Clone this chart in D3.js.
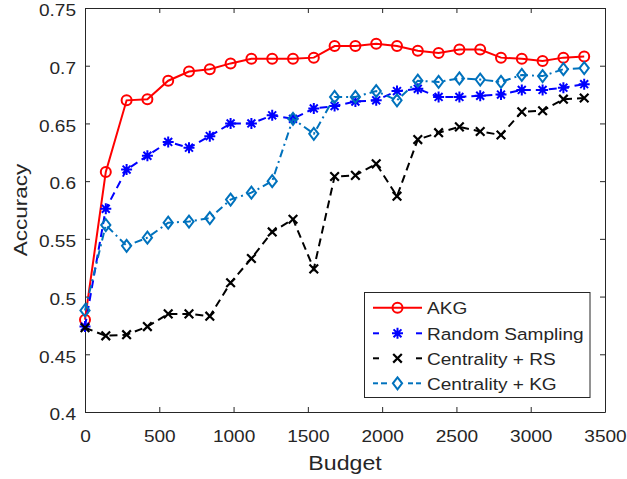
<!DOCTYPE html>
<html><head><meta charset="utf-8">
<script src="https://cdn.jsdelivr.net/npm/d3@7"></script>
<style>body{margin:0;background:#fff} svg{display:block}</style>
</head><body><svg id="c" width="627" height="479"></svg>
<script>
// ---- data ----
const budget = [0,140,280,420,560,700,840,980,1120,1260,1400,1540,1680,1820,1960,2100,2240,2380,2520,2660,2800,2940,3080,3220,3360];
const akg = [0.480,0.608,0.670,0.671,0.687,0.695,0.697,0.702,0.706,0.706,0.706,0.707,0.717,0.717,0.719,0.717,0.713,0.711,0.714,0.714,0.707,0.706,0.704,0.707,0.708];
const randomSampling = [0.474,0.576,0.610,0.622,0.634,0.629,0.639,0.650,0.650,0.657,0.654,0.663,0.665,0.669,0.670,0.678,0.680,0.673,0.673,0.674,0.675,0.679,0.679,0.681,0.684];
const centralityRS = [0.473,0.466,0.467,0.474,0.485,0.485,0.483,0.512,0.533,0.556,0.567,0.524,0.604,0.605,0.615,0.587,0.636,0.642,0.647,0.643,0.640,0.660,0.661,0.671,0.672];
const centralityKG = [0.488,0.562,0.544,0.551,0.564,0.565,0.568,0.584,0.590,0.600,0.654,0.641,0.673,0.673,0.678,0.670,0.687,0.686,0.689,0.688,0.686,0.692,0.691,0.697,0.698];
const seriesNames = ["AKG","Random Sampling","Centrality + RS","Centrality + KG"];
const xTicks = [0,500,1000,1500,2000,2500,3000,3500];
const yTicks = [0.4,0.45,0.5,0.55,0.6,0.65,0.7,0.75];
const yTickLabels = ["0.4","0.45","0.5","0.55","0.6","0.65","0.7","0.75"];
const xLabel = "Budget", yLabel = "Accuracy";

// ---- layout / style ----
const L = 85, R = 605, T = 8, B = 412;
const SX = 1.17;
const axisColor = "#262626";
const styles = [
  {color:"#ff0000", dash:null, marker:"circle"},
  {color:"#0000ff", dash:"8,5", marker:"asterisk"},
  {color:"#000000", dash:"8,5", marker:"x"},
  {color:"#0072bd", dash:"8,4,2,4", marker:"diamond"}
];
const seriesData = [akg, randomSampling, centralityRS, centralityKG];

const svg = d3.select("#c");
const x = d3.scaleLinear().domain([0,3500]).range([L,R]);
const y = d3.scaleLinear().domain([0.4,0.75]).range([B,T]);

// axes
function styleAxis(g){
  g.selectAll("path.domain").attr("stroke",axisColor).attr("stroke-width",1);
  g.selectAll(".tick line").attr("stroke",axisColor).attr("stroke-width",1);
  g.selectAll("text").attr("fill",axisColor).style("font-family","'Liberation Sans', Arial, sans-serif").style("font-size","16.3px");
}
const gx = svg.append("g").attr("transform",`translate(0,${B})`)
  .call(d3.axisBottom(x).tickValues(xTicks).tickSizeInner(-5).tickSizeOuter(0).tickFormat(d3.format("d")));
styleAxis(gx);
gx.selectAll("text").attr("y",0).attr("dy",null).attr("transform",`translate(0,29.5) scale(${SX},1)`);

const gy = svg.append("g").attr("transform",`translate(${L},0)`)
  .call(d3.axisLeft(y).tickValues(yTicks).tickSizeInner(-5).tickSizeOuter(0).tickFormat((d,i)=>yTickLabels[i]));
styleAxis(gy);
gy.selectAll("text").attr("x",0).attr("dy",null).attr("y",0).attr("transform",`translate(-9,7.8) scale(${SX},1)`);

const gt = svg.append("g").attr("transform",`translate(0,${T})`)
  .call(d3.axisTop(x).tickValues(xTicks).tickSizeInner(-5).tickSizeOuter(0).tickFormat(""));
styleAxis(gt);
const gr = svg.append("g").attr("transform",`translate(${R},0)`)
  .call(d3.axisRight(y).tickValues(yTicks).tickSizeInner(-5).tickSizeOuter(0).tickFormat(""));
styleAxis(gr);

// labels
svg.append("text").attr("transform",`translate(${(L+R)/2},469.5) scale(1.13,1)`)
  .attr("text-anchor","middle").attr("fill",axisColor)
  .style("font-family","'Liberation Sans', Arial, sans-serif").style("font-size","20.5px").text(xLabel);
svg.append("text").attr("transform",`translate(27,${(T+B)/2}) rotate(-90) scale(${SX},1)`)
  .attr("text-anchor","middle").attr("fill",axisColor)
  .style("font-family","'Liberation Sans', Arial, sans-serif").style("font-size","19.2px").text(yLabel);

// markers
function markerPath(type){
  const p = d3.path();
  if(type==="circle"){ p.moveTo(5,0); p.arc(0,0,5,0,2*Math.PI); }
  else if(type==="asterisk"){
    const r=5.5, d=r*0.72;
    p.moveTo(-r,0);p.lineTo(r,0);p.moveTo(0,-r);p.lineTo(0,r);
    p.moveTo(-d,-d);p.lineTo(d,d);p.moveTo(-d,d);p.lineTo(d,-d);
  }
  else if(type==="x"){ const d=4.3; p.moveTo(-d,-d);p.lineTo(d,d);p.moveTo(-d,d);p.lineTo(d,-d); }
  else if(type==="diamond"){ p.moveTo(0,-6);p.lineTo(4.6,0);p.lineTo(0,6);p.lineTo(-4.6,0);p.closePath(); }
  return p.toString();
}

const line = d3.line().x(d=>x(d[0])).y(d=>y(d[1]));
seriesData.forEach((vals,si)=>{
  const st = styles[si];
  const pts = budget.map((b,i)=>[b,vals[i]]);
  const g = svg.append("g");
  g.append("path").datum(pts).attr("d",line).attr("fill","none")
    .attr("stroke",st.color).attr("stroke-width",2)
    .attr("stroke-dasharray",st.dash);
  g.selectAll("path.m").data(pts).join("path").attr("class","m")
    .attr("transform",d=>`translate(${x(d[0])},${y(d[1])})`)
    .attr("d",markerPath(st.marker))
    .attr("fill",st.marker==="circle"||st.marker==="diamond"?"none":"none")
    .attr("stroke",st.color).attr("stroke-width",st.marker==="x"?2.2:2);
});

// legend
const lg = svg.append("g");
lg.append("rect").attr("x",364.5).attr("y",292.5).attr("width",225.5).attr("height",105)
  .attr("fill","#fff").attr("stroke",axisColor).attr("stroke-width",1);
const rowY = [307.7,333.3,358.3,383.3];
const legSegs = [
  [[373,422]],
  [[373,379],[416,422]],
  [[373,379],[416,422]],
  [[373,378],[381,387],[408,413],[416,421]]
];
seriesNames.forEach((name,i)=>{
  const st = styles[i], yy = rowY[i];
  legSegs[i].forEach(s=>{
    lg.append("line").attr("x1",s[0]).attr("x2",s[1]).attr("y1",yy).attr("y2",yy)
      .attr("stroke",st.color).attr("stroke-width",2);
  });
  lg.append("path").attr("transform",`translate(397.5,${yy})`).attr("d",markerPath(st.marker))
    .attr("fill","none").attr("stroke",st.color).attr("stroke-width",st.marker==="x"?2.2:2);
  lg.append("text").attr("transform",`translate(427,${yy+6.5}) scale(${SX},1)`)
    .attr("fill",axisColor).style("font-family","'Liberation Sans', Arial, sans-serif")
    .style("font-size","16.3px").text(name);
});
</script></body></html>
